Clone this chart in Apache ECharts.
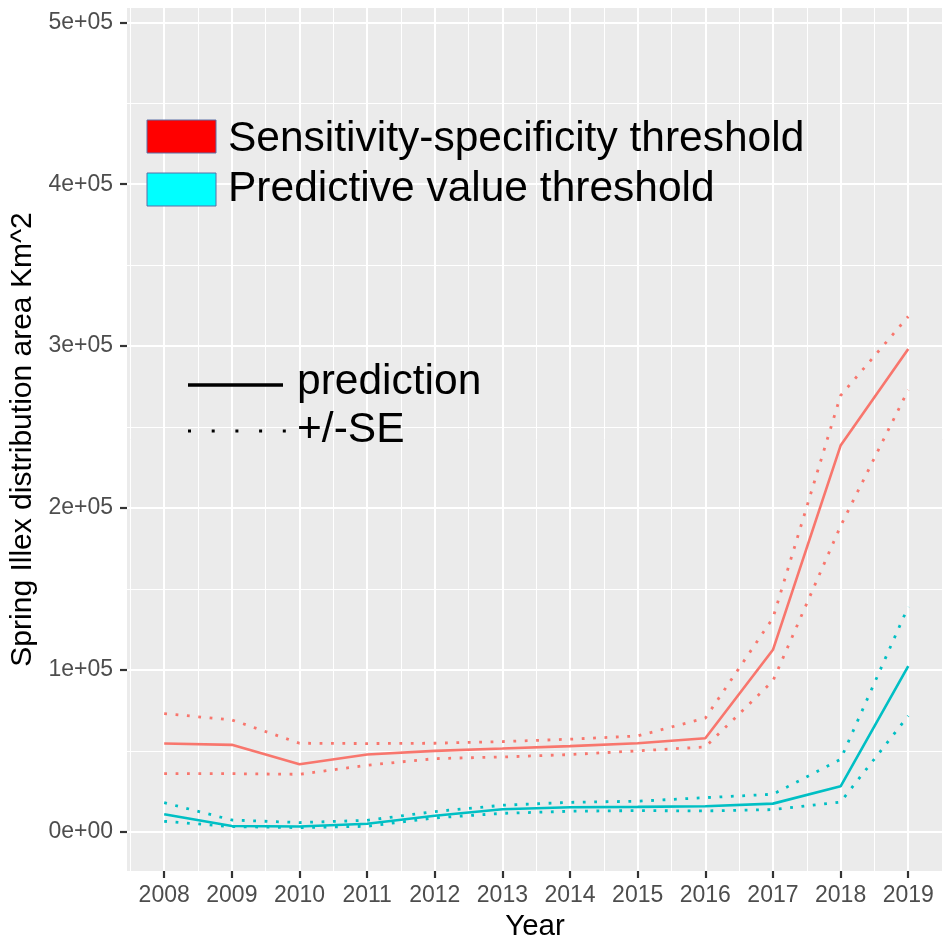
<!DOCTYPE html>
<html>
<head>
<meta charset="utf-8">
<script src="https://cdn.jsdelivr.net/npm/echarts@6/dist/echarts.min.js"></script>
<style>
  html, body { margin: 0; padding: 0; background: #ffffff; }
  #chart { width: 943px; height: 937px; }
</style>
</head>
<body>
<div id="chart"></div>
<script>
// ---- data ----
const years = [2008, 2009, 2010, 2011, 2012, 2013, 2014, 2015, 2016, 2017, 2018, 2019];
const yTicks = [0, 100000, 200000, 300000, 400000, 500000];
const yTickLabels = ['0e+00', '1e+05', '2e+05', '3e+05', '4e+05', '5e+05'];

// Sensitivity-specificity threshold
const sensPred  = [54600, 53800, 41800, 47800, 50100, 51500, 53000, 54800, 57900, 112500, 238600, 298300];
const sensUpper = [73100, 69200, 54800, 54600, 54800, 55800, 57300, 59300, 70300, 132100, 269500, 318300];
const sensLower = [36000, 36000, 35600, 41200, 45300, 46300, 47800, 50100, 52500, 93300, 188900, 273000];

// Predictive value threshold
const predPred  = [10900, 3700, 3400, 5100, 10000, 14000, 15300, 15500, 15900, 17500, 28200, 102400];
const predUpper = [18100, 7400, 5800, 7200, 12600, 16500, 18300, 19000, 21200, 23300, 44900, 139100];
const predLower = [6600, 3300, 2700, 3500, 8700, 11500, 12800, 13200, 13000, 13800, 18500, 71700];

const legendColours = ['Sensitivity-specificity threshold', 'Predictive value threshold'];
const legendLines = ['prediction', '+/-SE'];

// ---- chart ----
const RED = '#F8766D', TEAL = '#00BFC4';
const FONT = '"Liberation Sans", Arial, Helvetica, sans-serif';
const pairs = arr => arr.map((v, i) => [years[i], v]);
const minorX = years.map(y => y - 0.5).concat([years[years.length - 1] + 0.5]);
const minorY = yTicks.map(v => v + 50000);

function lineSeries(name, arr, color, dotted) {
  return {
    type: 'line', name: name, data: pairs(arr),
    xAxisIndex: 0, yAxisIndex: 0,
    showSymbol: false, symbol: 'none', clip: false, silent: true,
    lineStyle: dotted
      ? { color: color, width: 2.8, type: [2.8, 8.6], cap: 'butt' }
      : { color: color, width: 2.6 },
    z: dotted ? 3 : 4
  };
}

const chart = echarts.init(document.getElementById('chart'), null, { renderer: 'canvas' });
const option = {
  animation: false,
  backgroundColor: '#ffffff',
  textStyle: { fontFamily: FONT },
  grid: {
    left: 127, right: 0, top: 8, bottom: 66,
    containLabel: false, outerBoundsMode: 'none',
    show: true, backgroundColor: '#EBEBEB', borderWidth: 0
  },
  xAxis: [{
    type: 'value', min: 2007.45, max: 2019.514,
    name: 'Year', nameLocation: 'middle', nameGap: 41,
    nameTextStyle: { fontFamily: FONT, fontSize: 29.5, color: '#000000' },
    axisLine: { show: false, onZero: false },
    axisTick: { show: true, customValues: years, length: 7, lineStyle: { color: '#333333', width: 2.2 } },
    axisLabel: { customValues: years, margin: 13, fontFamily: FONT, fontSize: 23, color: '#4D4D4D',
                 formatter: v => String(v) },
    splitLine: { show: true, lineStyle: { color: '#ffffff', width: 2 } }
  }, {
    type: 'value', min: 2007.45, max: 2019.514, position: 'top',
    axisLine: { show: false, onZero: false },
    axisTick: { show: false, customValues: minorX },
    axisLabel: { show: false, customValues: minorX },
    splitLine: { show: true, lineStyle: { color: '#ffffff', width: 1 } }
  }],
  yAxis: [{
    type: 'value', min: -24100, max: 508800,
    name: 'Spring Illex distribution area Km^2', nameLocation: 'middle', nameGap: 86, nameRotate: 90,
    nameTextStyle: { fontFamily: FONT, fontSize: 30, color: '#000000' },
    axisLine: { show: false, onZero: false },
    axisTick: { show: true, customValues: yTicks, length: 7, lineStyle: { color: '#333333', width: 2.2 } },
    axisLabel: { customValues: yTicks, margin: 14, fontFamily: FONT, fontSize: 23, color: '#4D4D4D',
                 formatter: v => { const i = yTicks.indexOf(v); return i >= 0 ? yTickLabels[i] : ''; } },
    splitLine: { show: true, lineStyle: { color: '#ffffff', width: 2 } }
  }, {
    type: 'value', min: -24100, max: 508800, position: 'right',
    axisLine: { show: false, onZero: false },
    axisTick: { show: false, customValues: minorY },
    axisLabel: { show: false, customValues: minorY },
    splitLine: { show: true, lineStyle: { color: '#ffffff', width: 1 } }
  }],
  series: [
    lineSeries(legendColours[0] + ' upper', sensUpper, RED, true),
    lineSeries(legendColours[0] + ' lower', sensLower, RED, true),
    lineSeries(legendColours[0], sensPred, RED, false),
    lineSeries(legendColours[1] + ' upper', predUpper, TEAL, true),
    lineSeries(legendColours[1] + ' lower', predLower, TEAL, true),
    lineSeries(legendColours[1], predPred, TEAL, false)
  ],
  graphic: [
    { type: 'rect', shape: { x: 147, y: 120, width: 69, height: 33 },
      style: { fill: '#FF0000', stroke: '#5B6FA6', lineWidth: 1 }, z: 10 },
    { type: 'rect', shape: { x: 147, y: 173, width: 69, height: 33 },
      style: { fill: '#00FFFF', stroke: '#5B6FA6', lineWidth: 1 }, z: 10 },
    { type: 'text', x: 228, y: 139, z: 10,
      style: { text: legendColours[0], font: '42.5px ' + FONT, fill: '#000000', verticalAlign: 'middle' } },
    { type: 'text', x: 228, y: 189, z: 10,
      style: { text: legendColours[1], font: '42.5px ' + FONT, fill: '#000000', verticalAlign: 'middle' } },
    { type: 'line', shape: { x1: 188, y1: 385, x2: 283, y2: 385 }, z: 10,
      style: { stroke: '#000000', lineWidth: 3.5 } },
    { type: 'line', shape: { x1: 188, y1: 431, x2: 286, y2: 431 }, z: 10,
      style: { stroke: '#000000', lineWidth: 3, lineDash: [3, 20.7] } },
    { type: 'text', x: 297, y: 382, z: 10,
      style: { text: legendLines[0], font: '42.5px ' + FONT, fill: '#000000', verticalAlign: 'middle' } },
    { type: 'text', x: 297, y: 430, z: 10,
      style: { text: legendLines[1], font: '42.5px ' + FONT, fill: '#000000', verticalAlign: 'middle' } }
  ]
};
chart.setOption(option);
</script>
</body>
</html>
